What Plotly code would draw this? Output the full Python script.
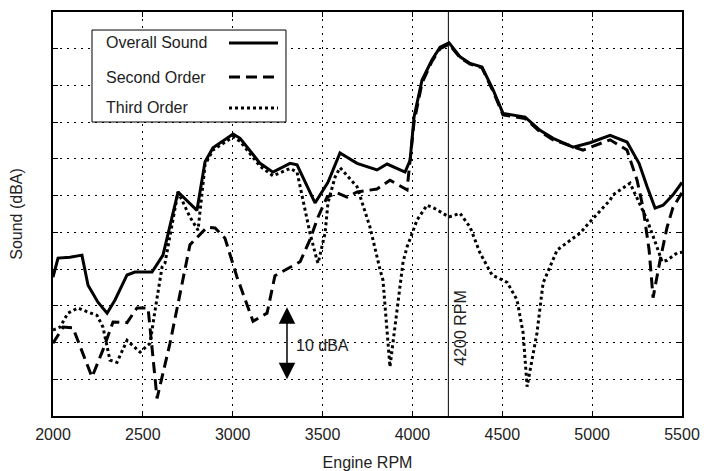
import plotly.graph_objects as go

# ---- data (Engine RPM, Sound dBA) ----
overall_rpm = [2000, 2028, 2095, 2161, 2195, 2250, 2301, 2345, 2412, 2456, 2551, 2612, 2696,
               2801, 2846, 2890, 3002, 3041, 3152, 3224, 3319, 3358, 3458, 3530, 3597, 3692,
               3803, 3859, 3959, 3987, 4009, 4053, 4109, 4154, 4204, 4265, 4321, 4387, 4449,
               4504, 4627, 4710, 4783, 4894, 4988, 5100, 5194, 5261, 5306, 5350, 5395, 5450, 5500]
overall_db = [68.9, 71.5, 71.6, 71.9, 67.8, 65.5, 64.0, 65.8, 69.2, 69.6, 69.6, 71.9, 80.5,
              78.0, 84.6, 86.5, 88.4, 87.8, 84.4, 83.2, 84.4, 84.2, 79.0, 81.8, 85.8, 84.4,
              83.5, 84.3, 83.2, 84.8, 90.7, 95.7, 98.5, 100.2, 100.8, 98.9, 98.0, 97.5, 94.4,
              91.2, 90.7, 88.9, 87.8, 86.6, 87.2, 88.2, 87.3, 84.4, 81.2, 78.3, 78.7, 80.1, 81.8]

second_rpm = [2000, 2056, 2111, 2217, 2278, 2334, 2412, 2467, 2529, 2579, 2651, 2746, 2762,
              2857, 2902, 2957, 3024, 3113, 3191, 3235, 3375, 3430, 3475, 3525, 3580, 3636,
              3692, 3803, 3875, 3970, 4009, 4053, 4109, 4154, 4204, 4265, 4321, 4387, 4449,
              4504, 4627, 4710, 4783, 4949, 5100, 5194, 5250, 5283, 5317, 5339, 5378, 5417,
              5450, 5500]
second_db = [59.9, 62.1, 62.0, 55.3, 59.0, 62.8, 62.7, 64.7, 64.7, 52.4, 59.9, 71.2, 73.3,
             75.7, 75.6, 74.2, 68.9, 62.9, 64.0, 69.1, 71.0, 74.0, 77.1, 79.8, 80.4, 79.8,
             80.5, 80.9, 82.1, 80.8, 90.0, 95.3, 98.3, 100.0, 100.6, 98.8, 97.9, 97.4, 94.2,
             91.0, 90.5, 88.7, 87.6, 86.2, 87.6, 86.2, 82.1, 78.4, 72.6, 66.1, 71.2, 75.7,
             78.4, 80.4]

third_rpm = [2000, 2039, 2083, 2139, 2189, 2245, 2278, 2317, 2356, 2412, 2484, 2540, 2568,
             2607, 2623, 2696, 2762, 2807, 2846, 2890, 3002, 3041, 3152, 3224, 3319, 3358,
             3391, 3430, 3469, 3475, 3514, 3530, 3569, 3597, 3692, 3764, 3820, 3836, 3875,
             3914, 3948, 3970, 4026, 4081, 4120, 4204, 4265, 4321, 4376, 4443, 4527, 4582,
             4616, 4638, 4693, 4727, 4805, 4933, 4972, 5100, 5116, 5211, 5261, 5306, 5361,
             5389, 5417, 5473, 5500]
third_db = [61.7, 62.1, 64.0, 64.7, 64.2, 63.7, 62.1, 57.6, 57.3, 60.3, 58.7, 59.9, 64.4,
            70.3, 70.8, 80.5, 77.1, 75.3, 84.2, 86.2, 88.0, 87.4, 84.0, 82.7, 83.7, 83.2,
            79.4, 74.9, 71.2, 70.8, 74.9, 79.0, 82.5, 83.8, 81.2, 75.7, 69.9, 68.5, 56.7,
            64.4, 71.0, 73.0, 76.7, 78.7, 78.3, 77.1, 77.6, 75.7, 72.2, 69.2, 68.2, 65.8,
            61.3, 54.0, 61.3, 68.1, 72.6, 74.9, 76.0, 79.4, 80.1, 81.7, 79.0, 76.7, 73.0,
            71.0, 71.2, 72.2, 72.3]

series_names = ["Overall Sound", "Second Order", "Third Order"]
x_ticks = [2000, 2500, 3000, 3500, 4000, 4500, 5000, 5500]
y_ticks = [50, 55, 60, 65, 70, 75, 80, 85, 90, 95, 100, 105]
marker_rpm = 4200
marker_label = "4200 RPM"
scale_rpm = 3302
scale_low, scale_high = 55, 65
scale_label = "10 dBA"

FONT = "Liberation Sans, Arial, sans-serif"
TXT = "#222"
dashes = ["solid", "11px,6px", "3px,3px"]

fig = go.Figure()

for name, xs, ys, d in zip(series_names,
                           [overall_rpm, second_rpm, third_rpm],
                           [overall_db, second_db, third_db], dashes):
    fig.add_trace(go.Scatter(x=xs, y=ys, mode="lines", name=name, showlegend=False,
                             line=dict(color="black", width=3, dash=d)))

# vertical 4200 RPM line
fig.add_shape(type="line", xref="x", yref="paper", x0=marker_rpm, x1=marker_rpm,
              y0=0, y1=1, line=dict(color="black", width=1))
fig.add_annotation(x=marker_rpm, y=62, xref="x", yref="y", text=marker_label,
                   textangle=-90, showarrow=False, xanchor="left", xshift=2,
                   font=dict(family=FONT, size=16, color=TXT))

# 10 dBA scale arrow
fig.add_annotation(x=scale_rpm, y=scale_low, ax=scale_rpm, ay=scale_high,
                   xref="x", yref="y", axref="x", ayref="y", text="",
                   showarrow=True, arrowhead=2, startarrowhead=2, arrowside="end+start",
                   arrowsize=2.2, startarrowsize=2.2, arrowwidth=1.5, arrowcolor="black")
fig.add_annotation(x=scale_rpm, y=59.6, xref="x", yref="y",
                   text=scale_label, showarrow=False, xanchor="left", xshift=7,
                   font=dict(family=FONT, size=16, color=TXT))

# custom legend (text left, line sample right)
lx0, lx1, ly0, ly1 = 0.062, 0.3704, 0.7277, 0.9554
fig.add_shape(type="rect", xref="paper", yref="paper", x0=lx0, x1=lx1, y0=ly0, y1=ly1,
              line=dict(color="black", width=1), fillcolor="white", layer="above")
rows_y = [0.9233, 0.8391, 0.7624]
for name, yy, d in zip(series_names, rows_y, dashes):
    fig.add_annotation(x=0.0811, y=yy, xref="paper", yref="paper", text=name,
                       showarrow=False, xanchor="left", yanchor="middle",
                       font=dict(family=FONT, size=16, color=TXT))
    fig.add_shape(type="line", xref="paper", yref="paper", x0=0.2798, x1=0.3577,
                  y0=yy, y1=yy, line=dict(color="black", width=3, dash=d), layer="above")

axis_common = dict(showline=True, linecolor="black", linewidth=2, mirror="ticks",
                   ticks="inside", ticklen=5, tickcolor="black", tickwidth=1,
                   showgrid=True, gridcolor="black", gridwidth=1, griddash="2px,5px",
                   zeroline=False, automargin=False)
fig.update_xaxes(range=[2000, 5500], tickvals=x_ticks, ticktext=[str(v) for v in x_ticks],
                 ticklabelstandoff=3,
                 title=dict(text="Engine RPM", font=dict(family=FONT, size=16, color=TXT),
                            standoff=16),
                 tickfont=dict(family=FONT, size=16, color=TXT), **axis_common)
fig.update_yaxes(range=[50, 105], tickvals=y_ticks, showticklabels=False,
                 title=dict(text="Sound (dBA)", font=dict(family=FONT, size=16, color=TXT),
                            standoff=24),
                 **axis_common)

fig.update_layout(width=704, height=471, margin=dict(l=53, r=22, t=12, b=55),
                  plot_bgcolor="white", paper_bgcolor="white",
                  font=dict(family=FONT, size=16, color=TXT))

fig.write_html("out.html")
